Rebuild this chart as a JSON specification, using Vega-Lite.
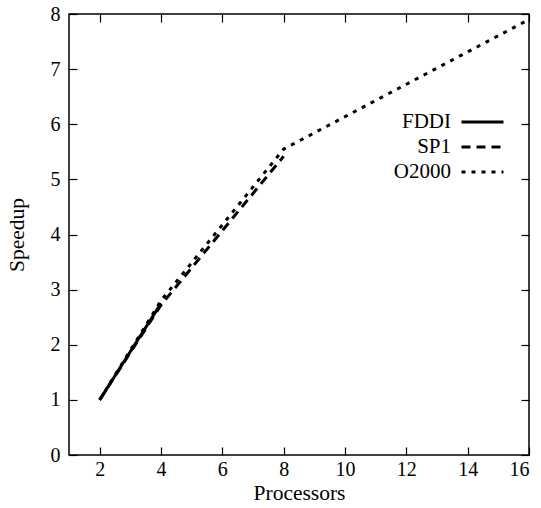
{
  "$schema": "https://vega.github.io/schema/vega-lite/v6.json",
  "width": 460,
  "height": 441,
  "autosize": {"type": "none"},
  "padding": {"left": 69, "top": 14, "right": 12, "bottom": 53},
  "background": "white",
  "config": {
    "font": "Liberation Serif",
    "view": {"stroke": "black", "strokeWidth": 1.5},
    "axis": {
      "domain": false,
      "grid": false,
      "tickColor": "black",
      "tickSize": -8,
      "tickWidth": 1.2,
      "labelFont": "Liberation Serif",
      "labelFontSize": 20,
      "labelColor": "black",
      "titleFont": "Liberation Serif",
      "titleFontSize": 21.5,
      "titleFontWeight": "normal",
      "titleColor": "black"
    }
  },
  "data": {
    "values": [
      {"Processors": 2, "Speedup": 1.0, "System": "FDDI"},
      {"Processors": 4, "Speedup": 2.75, "System": "FDDI"},
      {"Processors": 2, "Speedup": 1.0, "System": "SP1"},
      {"Processors": 4, "Speedup": 2.72, "System": "SP1"},
      {"Processors": 8, "Speedup": 5.42, "System": "SP1"},
      {"Processors": 2, "Speedup": 1.0, "System": "O2000"},
      {"Processors": 4, "Speedup": 2.8, "System": "O2000"},
      {"Processors": 8, "Speedup": 5.55, "System": "O2000"},
      {"Processors": 16, "Speedup": 7.9, "System": "O2000"}
    ]
  },
  "layer": [
    {
      "mark": {"type": "line", "color": "black", "strokeWidth": 3, "strokeCap": "butt", "clip": true},
      "encoding": {
        "x": {
          "field": "Processors", "type": "quantitative",
          "scale": {"domain": [1, 16], "nice": false, "zero": false},
          "axis": {"values": [2, 4, 6, 8, 10, 12, 14, 16], "title": "Processors", "labelPadding": 12, "titleY": 27}
        },
        "y": {
          "field": "Speedup", "type": "quantitative",
          "scale": {"domain": [0, 8], "nice": false},
          "axis": {"values": [0, 1, 2, 3, 4, 5, 6, 7, 8], "title": "Speedup", "labelPadding": 17, "titleX": -41}
        },
        "strokeDash": {
          "field": "System", "type": "nominal",
          "sort": ["FDDI", "SP1", "O2000"],
          "scale": {"domain": ["FDDI", "SP1", "O2000"], "range": [[1, 0], [9, 6], [4, 6]]},
          "legend": {
            "title": null,
            "orient": "none",
            "legendX": 391,
            "legendY": 96,
            "padding": 0,
            "symbolType": "M-1,0H3",
            "symbolSize": 441,
            "symbolStrokeWidth": 3,
            "symbolStrokeColor": "black",
            "labelFont": "Liberation Serif",
            "labelFontSize": 21,
            "labelColor": "black",
            "labelAlign": "right",
            "labelOffset": -33,
            "rowPadding": 3
          }
        }
      }
    },
    {
      "mark": {"type": "line", "opacity": 0},
      "encoding": {
        "x": {
          "field": "Processors", "type": "quantitative",
          "axis": {"orient": "top", "values": [2, 4, 6, 8, 10, 12, 14, 16], "labels": false, "title": null}
        },
        "y": {
          "field": "Speedup", "type": "quantitative",
          "axis": {"orient": "right", "values": [0, 1, 2, 3, 4, 5, 6, 7, 8], "labels": false, "title": null}
        },
        "detail": {"field": "System"}
      }
    }
  ],
  "resolve": {"axis": {"x": "independent", "y": "independent"}}
}
